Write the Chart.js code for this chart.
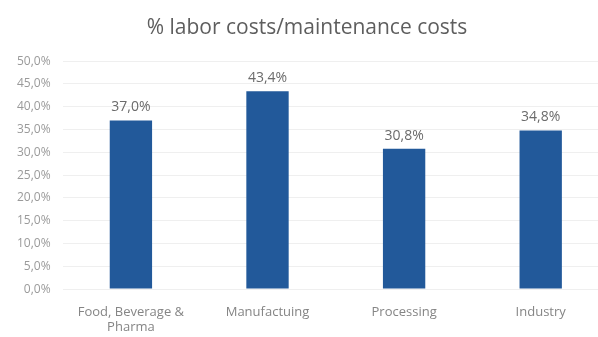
<!DOCTYPE html>
<html>
<head>
<meta charset="utf-8">
<script src="https://cdn.jsdelivr.net/npm/chart.js@4/dist/chart.umd.min.js"></script>
<style>
  html, body { margin: 0; padding: 0; background: #fff; overflow: hidden; }
  #wrap { width: 609px; height: 354px; }
</style>
</head>
<body>
<div id="wrap"><canvas id="laborChart"></canvas></div>
<script>
const categories = [['Food, Beverage &', 'Pharma'], 'Manufactuing', 'Processing', 'Industry'];
const laborShare = [37.0, 43.4, 30.8, 34.8];
const tickValues = [0, 5, 10, 15, 20, 25, 30, 35, 40, 45, 50];

const fmtPct = v => v.toFixed(1).replace('.', ',') + '%';

// value labels above each bar
const barLabels = {
    id: 'barLabels',
    afterDatasetsDraw(chart) {
        const ctx = chart.ctx;
        const meta = chart.getDatasetMeta(0);
        ctx.save();
        ctx.font = '14px "Open Sans", sans-serif';
        ctx.fillStyle = '#6b6b6b';
        ctx.textAlign = 'center';
        ctx.textBaseline = 'alphabetic';
        meta.data.forEach((bar, i) => {
            ctx.fillText(fmtPct(laborShare[i]), bar.x, bar.y - 9);
        });
        ctx.restore();
    }
};

new Chart(document.getElementById('laborChart'), {
    type: 'bar',
    data: {
        labels: categories,
        datasets: [{
            data: laborShare,
            backgroundColor: '#22599a',
            categoryPercentage: 1,
            barPercentage: 0.31
        }]
    },
    options: {
        responsive: true,
        maintainAspectRatio: false,
        animation: false,
        layout: { padding: { left: 5, right: 0, top: 0, bottom: 3 } },
        plugins: {
            legend: { display: false },
            tooltip: { enabled: false },
            title: {
                display: true,
                text: '% labor costs/maintenance costs',
                color: '#5e5e5e',
                font: { family: '"Open Sans", sans-serif', size: 21, weight: 'normal' },
                padding: { top: 15, bottom: 21 }
            }
        },
        scales: {
            x: {
                grid: { display: false, drawTicks: false },
                border: { display: false },
                ticks: {
                    color: '#858585',
                    font: { family: '"Open Sans", sans-serif', size: 13, lineHeight: 1.15 },
                    maxRotation: 0,
                    padding: 16
                }
            },
            y: {
                min: 0,
                max: 50,
                afterBuildTicks(scale) {
                    scale.ticks = tickValues.map(v => ({ value: v }));
                },
                grid: { color: '#efefef', drawTicks: false },
                border: { display: false },
                ticks: {
                    color: '#9a9a9a',
                    font: { family: '"Open Sans", sans-serif', size: 12 },
                    padding: 12,
                    callback: v => fmtPct(v)
                }
            }
        }
    },
    plugins: [barLabels]
});
</script>
</body>
</html>
